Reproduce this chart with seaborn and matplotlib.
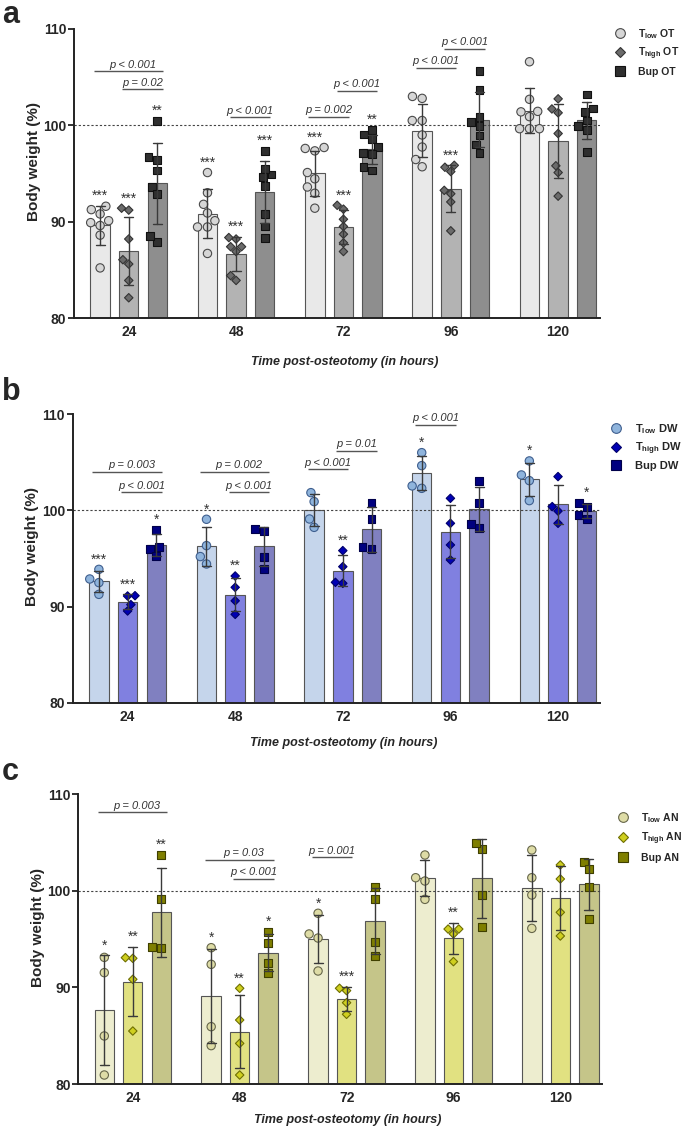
import matplotlib
matplotlib.use("Agg")
import matplotlib.pyplot as plt
import numpy as np
import pandas as pd
import seaborn as sns
from matplotlib.lines import Line2D

# ---------------- data ----------------
times = ["24", "48", "72", "96", "120"]

# Panel a: OT
ot_tlow = [
    [91.6, 91.25, 90.8, 90.1, 89.9, 89.6, 88.6, 85.2],
    [95.1, 93.0, 91.8, 90.9, 90.1, 89.45, 89.45, 86.7],
    [97.6, 97.7, 97.35, 94.45, 95.1, 93.6, 92.95, 91.4],
    [103.0, 102.8, 100.5, 100.5, 99.0, 97.75, 96.45, 95.7],
    [106.6, 102.7, 101.4, 101.45, 100.9, 99.65, 99.65, 99.65],
]
ot_thigh = [
    [91.2, 91.4, 88.2, 85.6, 86.05, 83.9, 82.1],
    [88.2, 88.35, 87.4, 87.4, 86.9, 83.9, 84.4],
    [91.7, 91.3, 90.25, 89.5, 88.7, 87.8, 86.9],
    [95.85, 95.65, 95.2, 92.9, 93.25, 92.05, 89.05],
    [102.75, 101.7, 101.3, 99.15, 95.8, 95.1, 92.65],
]
ot_bup = [
    [100.45, 96.7, 96.4, 95.3, 93.6, 92.85, 87.9, 88.5],
    [97.35, 94.9, 95.5, 94.6, 93.7, 90.8, 89.5, 88.3],
    [99.55, 99.05, 98.55, 97.75, 97.15, 97.05, 95.3, 95.65],
    [105.65, 103.65, 100.35, 100.85, 99.9, 98.95, 98.0, 97.15],
    [103.2, 101.4, 101.75, 100.5, 99.95, 99.55, 97.2],
]
ot_stars_tlow = ["***", "***", "***", "", ""]
ot_stars_thigh = ["***", "***", "***", "***", ""]
ot_stars_bup = ["**", "***", "**", "", ""]
ot_pvals = [
    (0, 0, 2, 105.6, "p < 0.001"),
    (0, 1, 2, 103.74, "p = 0.02"),
    (1, 1, 2, 100.83, "p < 0.001"),
    (2, 0, 1, 100.86, "p = 0.002"),
    (2, 1, 2, 103.56, "p < 0.001"),
    (3, 0, 1, 105.95, "p < 0.001"),
    (3, 1, 2, 107.96, "p < 0.001"),
]
ot_labels = [r"$\mathbf{T_{low}}$ OT", r"$\mathbf{T_{high}}$ OT", "Bup OT"]

# Panel b: DW
dw_tlow = [
    [93.87, 92.87, 92.49, 91.27],
    [99.08, 96.34, 95.2, 94.43],
    [101.85, 100.92, 99.11, 98.24],
    [106.01, 104.66, 102.3, 102.55],
    [105.15, 103.69, 103.1, 101.02],
]
dw_thigh = [
    [91.13, 91.1, 90.2, 89.54],
    [93.18, 92.0, 90.6, 89.19],
    [95.82, 94.15, 92.42, 92.52],
    [101.26, 98.66, 96.41, 94.85],
    [103.52, 100.4, 99.94, 98.66],
]
dw_bup = [
    [97.97, 96.23, 95.99, 95.3],
    [98.04, 97.86, 95.19, 93.91],
    [100.81, 99.11, 95.99, 96.23],
    [103.07, 100.81, 98.14, 98.59],
    [100.81, 100.33, 99.53, 99.11],
]
dw_stars_tlow = ["***", "*", "", "*", "*"]
dw_stars_thigh = ["***", "**", "**", "", ""]
dw_stars_bup = ["*", "", "", "", "*"]
dw_pvals = [
    (0, 0, 2, 104.04, "p = 0.003"),
    (0, 1, 2, 101.89, "p < 0.001"),
    (1, 0, 2, 104.04, "p = 0.002"),
    (1, 1, 2, 101.89, "p < 0.001"),
    (2, 0, 1, 104.28, "p < 0.001"),
    (2, 1, 2, 106.19, "p = 0.01"),
    (3, 0, 1, 108.9, "p < 0.001"),
]
dw_labels = [r"$\mathbf{T_{low}}$ DW", r"$\mathbf{T_{high}}$ DW", "Bup DW"]

# Panel c: AN
an_tlow = [
    [93.1, 91.52, 84.97, 80.93],
    [94.1, 92.38, 85.93, 83.97],
    [97.66, 95.52, 95.1, 91.69],
    [103.69, 101.34, 101.0, 99.1],
    [104.21, 101.34, 99.55, 96.1],
]
an_thigh = [
    [93.0, 93.07, 90.83, 85.48],
    [89.9, 86.62, 84.2, 80.93],
    [89.9, 89.66, 88.41, 87.21],
    [96.03, 96.03, 95.52, 92.66],
    [102.66, 101.21, 97.76, 95.31],
]
an_bup = [
    [103.69, 99.14, 94.03, 94.14],
    [95.76, 94.55, 91.52, 92.48],
    [100.41, 99.14, 94.66, 93.24],
    [104.28, 104.97, 99.55, 96.28],
    [103.0, 102.21, 100.41, 97.07],
]
an_stars_tlow = ["*", "*", "*", "", ""]
an_stars_thigh = ["**", "**", "***", "**", ""]
an_stars_bup = ["**", "*", "", "", ""]
an_pvals = [
    (0, 0, 2, 108.1, "p = 0.003"),
    (1, 0, 2, 103.21, "p = 0.03"),
    (1, 1, 2, 101.21, "p < 0.001"),
    (2, 0, 1, 103.45, "p = 0.001"),
]
an_labels = [r"$\mathbf{T_{low}}$ AN", r"$\mathbf{T_{high}}$ AN", "Bup AN"]

# ---------------- styling ----------------
sns.set_style("ticks")
plt.rcParams["font.family"] = ["Liberation Sans", "DejaVu Sans"]
plt.rcParams["mathtext.fontset"] = "custom"
plt.rcParams["mathtext.rm"] = "Liberation Sans"
plt.rcParams["mathtext.bf"] = "Liberation Sans:bold"
plt.rcParams["mathtext.it"] = "Liberation Sans:italic"

W, H = 685, 1135
fig = plt.figure(figsize=(W / 100, H / 100), dpi=100)

groups = ["tlow", "thigh", "bup"]
markers = ["o", "D", "s"]
msizes = [6.0, 4.3, 5.6]
DODGE = 0.8


def make_df(series):
    rows = []
    for g, s in zip(groups, series):
        for t, vals in zip(times, s):
            for v in vals:
                rows.append({"time": t, "group": g, "bw": v})
    return pd.DataFrame(rows)


def draw_panel(rect, series, stars, pvals, labels, bar_cols, pt_cols, edge_cols,
               letter, letter_y, leg_xy, leg_size, leg_spacing, xlab_y):
    ax = fig.add_axes([rect[0] / W, 1 - rect[3] / H, (rect[2] - rect[0]) / W,
                       (rect[3] - rect[1]) / H])
    df = make_df(series)
    sns.barplot(data=df, x="time", y="bw", hue="group", order=times,
                hue_order=groups, palette=dict(zip(groups, bar_cols)),
                saturation=1, errorbar="sd", capsize=0.25, width=DODGE, gap=0.32,
                edgecolor="#555555", linewidth=0.8, legend=False,
                err_kws={"color": "#3a3a3a", "linewidth": 1.0, "zorder": 3},
                ax=ax)
    for g, m, ms, ec in zip(groups, markers, msizes, edge_cols):
        sns.swarmplot(data=df[df["group"] == g], x="time", y="bw", hue="group",
                      order=times, hue_order=groups,
                      palette=dict(zip(groups, pt_cols)), dodge=True, marker=m,
                      size=ms, edgecolor=ec, linewidth=0.8, legend=False,
                      zorder=2, ax=ax)
    ax.axhline(100, color="#444444", lw=0.8, ls=(0, (2.0, 1.8)), zorder=1.5)

    def pos(t, g):
        return t + (g - 1) * DODGE / 3

    # significance stars
    for gi, (s_list, ser) in enumerate(zip(stars, series)):
        for ti, (st, vals) in enumerate(zip(s_list, ser)):
            if not st:
                continue
            v = np.asarray(vals)
            top = max(v.max(), v.mean() + v.std(ddof=1))
            ax.text(pos(ti, gi), top + 0.3, st, ha="center", va="bottom",
                    fontsize=10, color="#333333")

    # p-value lines
    for ti, g1, g2, y, lab in pvals:
        x0 = pos(ti, g1) - 0.06
        x1 = pos(ti, g2) + 0.05
        ax.plot([x0, x1], [y, y], color="#555555", lw=1.0, solid_capstyle="butt")
        shift = 0.04 if g2 - g1 == 2 else 0.0
        ax.text((x0 + x1) / 2 + shift, y + 0.38, lab, ha="center", va="baseline",
                fontsize=8, style="italic", color="#333333")

    ax.set_xlim(-0.51, 4.39)
    ax.set_ylim(80, 110)
    ax.set_yticks([80, 90, 100, 110])
    ax.set_xticks(range(len(times)))
    ax.set_xticklabels(times)
    for lab in ax.get_xticklabels() + ax.get_yticklabels():
        lab.set_fontweight("bold")
        lab.set_fontsize(10)
    ax.tick_params(axis="y", length=4, width=1.3, pad=1.5, color="#222222")
    ax.tick_params(axis="x", length=0, pad=5)
    for sp in ["top", "right"]:
        ax.spines[sp].set_visible(False)
    for sp in ["left", "bottom"]:
        ax.spines[sp].set_linewidth(1.4)
        ax.spines[sp].set_color("#222222")
    ax.set_ylabel("Body weight (%)", fontsize=11, fontweight="bold")
    ax.set_xlabel("Time post-osteotomy (in hours)", fontsize=9, fontweight="bold",
                  style="italic")
    ax.yaxis.set_label_coords(-0.063, 0.54)
    ax.xaxis.set_label_coords(0.514, xlab_y)

    handles = [Line2D([], [], ls="", marker=m, markerfacecolor=pc,
                      markeredgecolor=ec, markeredgewidth=0.8,
                      markersize=(7 if m == "o" else 5.2 if m == "D" else 6.6))
               for m, pc, ec in zip(markers, pt_cols, edge_cols)]
    ax.legend(handles, labels, loc="upper left", bbox_to_anchor=leg_xy,
              bbox_transform=fig.transFigure, frameon=False,
              prop={"weight": "bold", "size": leg_size}, handletextpad=1.1,
              labelspacing=leg_spacing, borderaxespad=0, borderpad=0,
              handlelength=1.2)
    fig.text(2 / W, 1 - letter_y / H, letter, fontsize=22, fontweight="bold",
             ha="left", va="top")
    return ax


draw_panel((74, 29, 600, 318), [ot_tlow, ot_thigh, ot_bup],
           [ot_stars_tlow, ot_stars_thigh, ot_stars_bup], ot_pvals, ot_labels,
           ["#e9e9e9", "#b3b3b3", "#8e8e8e"],
           ["#d6d6d6", "#6b6b6b", "#2f2f2f"],
           ["#4a4a4a", "#333333", "#111111"],
           "a", 0, (614 / W, 1 - 27 / H), 7.5, 0.45, -0.131)

draw_panel((72.7, 414.3, 600, 702.7), [dw_tlow, dw_thigh, dw_bup],
           [dw_stars_tlow, dw_stars_thigh, dw_stars_bup], dw_pvals, dw_labels,
           ["#c5d5eb", "#8080e0", "#8080c0"],
           ["#8fb4dc", "#0000b4", "#000080"],
           ["#3f5f8f", "#00006a", "#00004a"],
           "b", 377, (609 / W, 1 - 422 / H), 8, 0.4, -0.119)

draw_panel((78.3, 794, 602, 1084), [an_tlow, an_thigh, an_bup],
           [an_stars_tlow, an_stars_thigh, an_stars_bup], an_pvals, an_labels,
           ["#ededcf", "#e1e181", "#c5c589"],
           ["#dedca6", "#cfcf1f", "#7f7f00"],
           ["#66664a", "#6e6e00", "#3f3f00"],
           "c", 757, (617 / W, 1 - 811 / H), 7.5, 0.55, -0.103)

fig.savefig("out.png", dpi=100)
